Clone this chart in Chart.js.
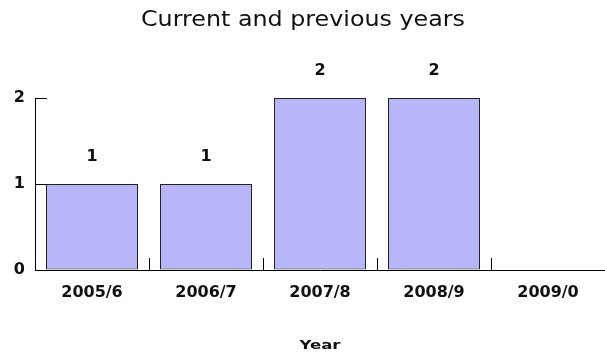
<!DOCTYPE html>
<html>
<head>
<meta charset="utf-8">
<script src="https://cdn.jsdelivr.net/npm/chart.js@4/dist/chart.umd.min.js"></script>
<style>
  html, body { margin: 0; padding: 0; background: #fff; }
  #wrap { width: 605px; height: 355px; }
</style>
</head>
<body>
<div id="wrap"><canvas id="grafico"></canvas></div>
<script>
const chartTitle = "Current and previous years";
const axisTitle = "Year";
const years = ["2005/6", "2006/7", "2007/8", "2008/9", "2009/0"];
const counts = [1, 1, 2, 2, 0];
const yTicks = [0, 1, 2];

// texto ensanchado horizontalmente (el original esta estirado)
function textoAncho(ctx, texto, font, cx, baseY, anchoObjetivo) {
  ctx.save();
  ctx.font = font;
  const w = ctx.measureText(texto).width;
  ctx.translate(cx, baseY);
  ctx.scale(anchoObjetivo / w, 1);
  ctx.textAlign = "center";
  ctx.textBaseline = "alphabetic";
  ctx.fillText(texto, 0, 0);
  ctx.restore();
}

// titulos, etiquetas encima de las barras + marcas cortas de los ejes
const extrasPlugin = {
  id: "extras",
  afterDatasetsDraw(chart) {
    const ctx = chart.ctx;
    const xs = chart.scales.x;
    const ys = chart.scales.y;
    const area = chart.chartArea;
    ctx.save();
    ctx.strokeStyle = "#000";
    ctx.lineWidth = 1;
    // marcas del eje x (entre categorias, hacia arriba)
    for (let i = 1; i < years.length; i++) {
      const x = Math.round((xs.getPixelForValue(i - 1) + xs.getPixelForValue(i)) / 2) + 0.5;
      ctx.beginPath();
      ctx.moveTo(x, area.bottom);
      ctx.lineTo(x, area.bottom - 12);
      ctx.stroke();
    }
    // marcas del eje y (hacia dentro)
    yTicks.forEach(function (v) {
      const y = Math.round(ys.getPixelForValue(v)) + 0.5;
      ctx.beginPath();
      ctx.moveTo(area.left, y);
      ctx.lineTo(area.left + 12, y);
      ctx.stroke();
    });
    // valores
    ctx.fillStyle = "#111";
    ctx.font = "bold 16px 'DejaVu Sans'";
    ctx.textAlign = "center";
    ctx.textBaseline = "middle";
    const meta = chart.getDatasetMeta(0);
    meta.data.forEach(function (bar, i) {
      if (!counts[i]) return;
      ctx.fillText(String(counts[i]), bar.x, bar.y - 27);
    });
    // titulos
    textoAncho(ctx, chartTitle, "21px 'DejaVu Sans'", 303, 26, 324);
    textoAncho(ctx, axisTitle, "bold 12.5px 'DejaVu Sans'", (area.left + area.right) / 2, 349, 41);
    ctx.restore();
  }
};

new Chart(document.getElementById("grafico"), {
  type: "bar",
  data: {
    labels: years,
    datasets: [{
      data: counts,
      backgroundColor: "rgb(182, 182, 248)",
      borderColor: "#222",
      borderWidth: 1,
      borderSkipped: false,
      categoryPercentage: 92 / 114,
      barPercentage: 1
    }]
  },
  options: {
    responsive: true,
    maintainAspectRatio: false,
    animation: false,
    layout: { padding: { left: 0, right: 0, top: 98, bottom: 0 } },
    plugins: {
      legend: { display: false },
      tooltip: { enabled: false },
      title: { display: false }
    },
    scales: {
      x: {
        grid: { display: true, drawOnChartArea: false, drawTicks: false },
        border: { display: true, color: "#000", width: 1 },
        ticks: {
          color: "#111",
          padding: 13,
          maxRotation: 0,
          font: { family: "DejaVu Sans", size: 16, weight: "bold" }
        },
        afterFit: function (scale) { scale.height = 85; }
      },
      y: {
        min: 0,
        max: 2,
        grid: { display: true, drawOnChartArea: false, drawTicks: false },
        border: { display: true, color: "#000", width: 1 },
        ticks: {
          stepSize: 1,
          color: "#111",
          padding: 10,
          font: { family: "DejaVu Sans", size: 16, weight: "bold" },
          callback: function (v) { return yTicks.includes(v) ? String(v) : ""; }
        },
        afterFit: function (scale) { scale.width = 35; }
      }
    }
  },
  plugins: [extrasPlugin]
});
</script>
</body>
</html>
